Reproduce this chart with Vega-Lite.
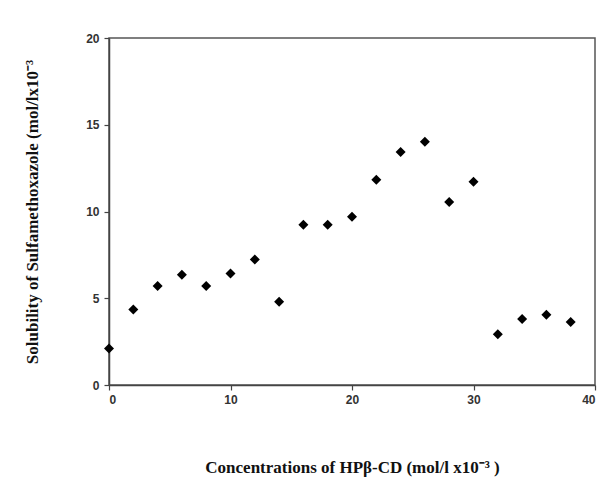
{
  "$schema": "https://vega.github.io/schema/vega-lite/v6.json",
  "width": 486,
  "height": 347,
  "autosize": {"type": "none"},
  "padding": {"left": 109, "top": 38, "right": 21, "bottom": 109},
  "background": "white",
  "config": {
    "view": {"stroke": "#555555", "strokeWidth": 1.5},
    "axis": {
      "domainColor": "#444444",
      "domainWidth": 1.5,
      "tickColor": "#444444",
      "tickWidth": 1.2,
      "tickSize": 5,
      "grid": false,
      "labelFont": "Liberation Sans",
      "labelFontSize": 12,
      "labelFontWeight": "bold",
      "labelColor": "#333333",
      "titleFont": "Liberation Serif",
      "titleFontSize": 17,
      "titleFontWeight": "bold",
      "titleColor": "#111111"
    }
  },
  "data": {
    "values": [
      {"x": 0, "y": 2.1},
      {"x": 2, "y": 4.35},
      {"x": 4, "y": 5.7},
      {"x": 6, "y": 6.35},
      {"x": 8, "y": 5.7},
      {"x": 10, "y": 6.42},
      {"x": 12, "y": 7.24},
      {"x": 14, "y": 4.8},
      {"x": 16, "y": 9.24},
      {"x": 18, "y": 9.24},
      {"x": 20, "y": 9.7},
      {"x": 22, "y": 11.83},
      {"x": 24, "y": 13.43},
      {"x": 26, "y": 14.02},
      {"x": 28, "y": 10.55},
      {"x": 30, "y": 11.72},
      {"x": 32, "y": 2.92},
      {"x": 34, "y": 3.8},
      {"x": 36, "y": 4.05},
      {"x": 38, "y": 3.63}
    ]
  },
  "mark": {"type": "point", "shape": "diamond", "filled": true, "color": "#000000", "size": 100, "opacity": 1},
  "encoding": {
    "x": {
      "field": "x",
      "type": "quantitative",
      "scale": {"domain": [0, 40], "nice": false},
      "axis": {"values": [0, 10, 20, 30, 40], "title": "Concentrations of HPβ-CD (mol/l x10⁻³  )", "titlePadding": 54, "labelPadding": 4}
    },
    "y": {
      "field": "y",
      "type": "quantitative",
      "scale": {"domain": [0, 20], "nice": false},
      "axis": {"values": [0, 5, 10, 15, 20], "title": "Solubility of Sulfamethoxazole (mol/lx10⁻³", "titlePadding": 44, "labelPadding": 5}
    }
  }
}
